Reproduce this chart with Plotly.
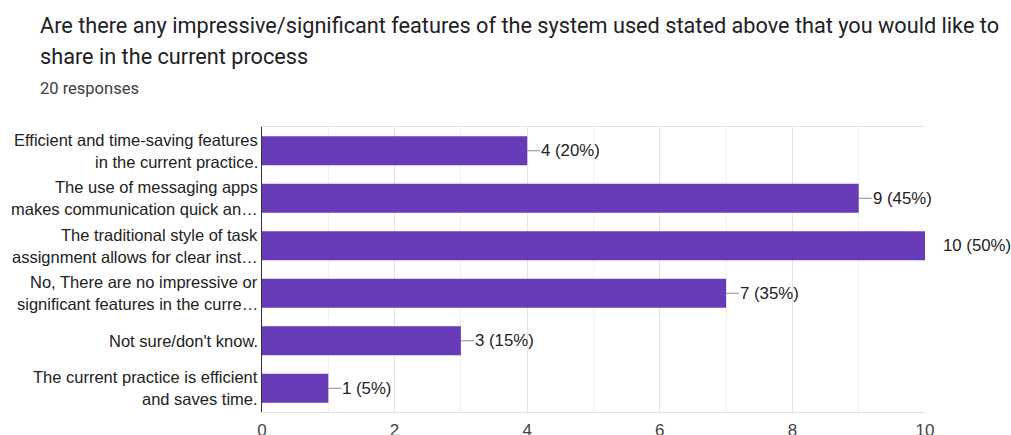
import plotly.graph_objects as go

categories = [
    "Efficient and time-saving features\nin the current practice.",
    "The use of messaging apps\nmakes communication quick an…",
    "The traditional style of task\nassignment allows for clear inst…",
    "No, There are no impressive or\nsignificant features in the curre…",
    "Not sure/don't know.",
    "The current practice is efficient\nand saves time.",
]
counts = [4, 9, 10, 7, 3, 1]
percents = [20, 45, 50, 35, 15, 5]
x_ticks = [0, 2, 4, 6, 8, 10]
title_lines = [
    "Are there any impressive/significant features of the system used stated above that you would like to",
    "share in the current process",
]
subtitle_text = "20 responses"

W, H = 1011, 435
L, R, T, B = 262, 86, 127, 23
pw, ph = W - L - R, H - T - B

fig = go.Figure()
ids = list(range(len(categories)))
fig.add_trace(go.Bar(
    x=counts, y=ids, orientation="h",
    marker=dict(color="#673ab7", line=dict(width=0)),
    width=0.61, hoverinfo="skip",
))

xmax = max(x_ticks)
annotations = []
for i, (c, p) in enumerate(zip(counts, percents)):
    at_edge = c >= xmax
    annotations.append(dict(
        x=c, y=i, xref="x", yref="y", text=f"{c} ({p}%)",
        showarrow=not at_edge, arrowhead=0, arrowwidth=1, arrowcolor="#8a8a8a",
        ax=13, ay=0, xanchor="left", yanchor="middle",
        xshift=17 if at_edge else 0,
        font=dict(family="Liberation Sans, Arial", size=16.8, color="#222222"),
        borderpad=0,
    ))

for i, lab in enumerate(categories):
    lines = lab.split("\n")
    n = len(lines)
    for j, line in enumerate(lines):
        shift = (n - 1) * 11 - j * 22
        annotations.append(dict(
            x=0, y=i, xref="paper", yref="y", text=line, showarrow=False,
            xanchor="right", yanchor="middle", xshift=-2, yshift=shift,
            font=dict(family="Liberation Sans, Arial", size=16.5, color="#222222"),
        ))

for k, line in enumerate(title_lines):
    ypix = 25 + 32 * k
    annotations.append(dict(
        x=(40 - L) / pw, y=(H - B - ypix) / ph, xref="paper", yref="paper",
        text=line, showarrow=False, xanchor="left", yanchor="middle", align="left",
        xshift=-2, font=dict(family="Roboto", size=21.7, color="#202124"),
    ))
annotations.append(dict(
    x=(40 - L) / pw, y=(H - B - 88) / ph, xref="paper", yref="paper",
    text=subtitle_text, showarrow=False, xanchor="left", yanchor="middle", align="left",
    xshift=-2, font=dict(family="Roboto", size=16.5, color="#3c4043"),
))

fig.update_layout(
    width=W, height=H,
    margin=dict(l=L, r=R, t=T, b=B, autoexpand=False),
    paper_bgcolor="white", plot_bgcolor="white",
    showlegend=False,
    annotations=annotations,
    xaxis=dict(
        range=[0, xmax], tickvals=x_ticks, ticktext=[str(t) for t in x_ticks],
        showgrid=True, gridcolor="#e4e4e4", gridwidth=1,
        minor=dict(dtick=1, showgrid=True, gridcolor="#f1f1f1"),
        zeroline=False, showline=True, linecolor="#e4e4e4", mirror=True,
        ticks="", ticklabelstandoff=3, automargin=False,
        tickfont=dict(family="Liberation Sans, Arial", size=17, color="#444444"),
        fixedrange=True,
    ),
    yaxis=dict(
        range=[len(categories) - 0.5, -0.5],
        showticklabels=False, showgrid=False, zeroline=False,
        showline=True, linecolor="#333333", linewidth=1,
        automargin=False, fixedrange=True,
    ),
)

fig.write_html("out.html", config={"displayModeBar": False},
               post_script="document.body.style.margin='0px';")
